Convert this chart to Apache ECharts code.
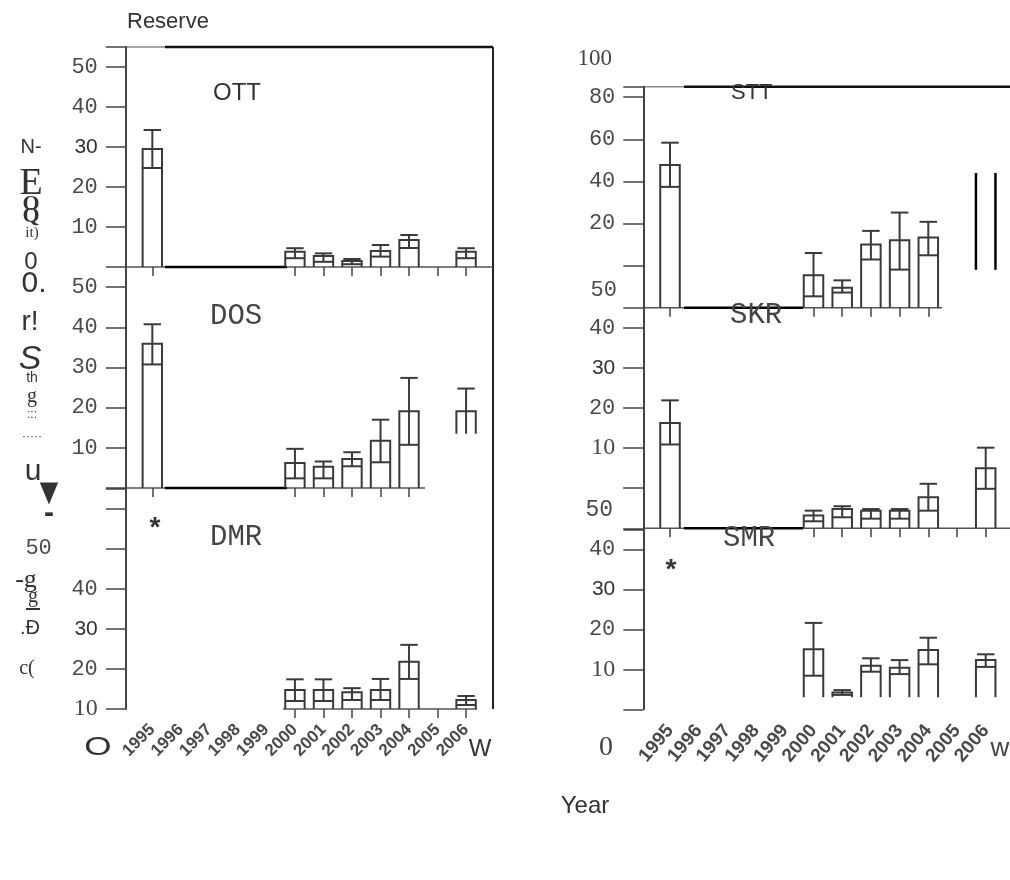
<!DOCTYPE html>
<html><head><meta charset="utf-8">
<script src="https://cdn.jsdelivr.net/npm/echarts@6/dist/echarts.min.js"></script>
<style>html,body{margin:0;padding:0;background:#fff}#c{width:1010px;height:880px}</style>
</head><body><div id="c"></div>
<script>
// ---------------- DATA ----------------
const years = [1995,1996,1997,1998,1999,2000,2001,2002,2003,2004,2005,2006];
// Reserve panels (left column)
const ottMean  = [29.5, null, null, null, null, 3.8, 2.75, 1.5, 4.0, 6.75, null, 3.8];
const ottLower = [24.75,null, null, null, null, 2.2, 1.3, 0.7, 2.6, 4.75, null, 2.2];
const ottUpper = [34.25,null, null, null, null, 4.7, 3.4, 2.0, 5.5, 8.0,  null, 4.7];
const dosMean  = [35.9, null, null, null, null, 6.2, 5.3, 7.2, 11.75, 19.1, null, 19.1];
const dosLower = [30.75,null, null, null, null, 2.4, 2.4, 5.4, 6.4,  10.75, null, 13.5];
const dosUpper = [40.75,null, null, null, null, 9.75,6.6, 8.9, 17.0, 27.4,  null, 24.75];
const dmrMean  = [null, null, null, null, null, 14.75, 14.75, 14.2, 14.75, 21.8, null, 12.25];
const dmrLower = [null, null, null, null, null, 12.0,  12.0,  12.25,12.25, 17.5, null, 11.0];
const dmrUpper = [null, null, null, null, null, 17.4,  17.4,  15.2, 17.5,  26.0, null, 13.25];
// Right column
const sttMean  = [47.8, null, null, null, null, -4.6, -10.5, 10.0, 12.0, 13.3, null, null];
const sttLower = [37.4, null, null, null, null, -14.6,-12.8, 2.9,  -1.9, 4.9,  null, null];
const sttUpper = [58.4, null, null, null, null, 6.0,  -7.0,  16.5, 25.2, 20.8, null, null];
const sttSides2006 = [-2, 44];
const skrMean  = [16.25,null, null, null, null, -6.8, -5.2, -5.6, -5.6, -2.25, null, 5.0];
const skrLower = [10.9, null, null, null, null, -8.25,-7.25,-7.6, -7.6, -5.6,  null, -0.15];
const skrUpper = [21.9, null, null, null, null, -5.6, -4.5, -5.2, -5.2, 1.1,   null, 10.1];
const smrMean  = [null, null, null, null, null, 15.0, 4.2, 10.9, 10.4, 14.8, null, 12.3];
const smrLower = [null, null, null, null, null, 8.4,  3.6, 9.4,  8.8,  11.25,null, 10.6];
const smrUpper = [null, null, null, null, null, 21.6, 4.8, 12.75,12.3, 17.9, null, 13.75];

// y tick label sets
const ottTicks = [10,20,30,40,50];
const dosTicks = [10,20,30,40,50];
const dmrTicks = [10,20,30,40,50];
const sttTicks = [20,40,60,80];
const skrTicks = [10,20,30,40];
const smrTicks = [10,20,30,40];

// ---------------- STYLE / LAYOUT ----------------
const xCats = [' '].concat(years.map(String)).concat(['  ']);
const LX = 123.8, LW = 370.8, RX = 641.3, RW = 373.1;
const grids = [
  {left: LX, top: 47,    width: LW, height: 220},
  {left: LX, top: 267,   width: LW, height: 221},
  {left: LX, top: 488.5, width: LW, height: 220.5},
  {left: RX, top: 86.7,  width: RW, height: 221},
  {left: RX, top: 307.7, width: RW, height: 220.6},
  {left: RX, top: 529.3, width: RW, height: 180}
].map(g => Object.assign({show: false, outerBoundsMode: 'none', containLabel: false}, g));

const MONO = 'Liberation Mono', SANS = 'Liberation Sans', SERIF = 'Liberation Serif';
const RICH = {
  m:  {fontFamily: MONO, fontSize: 22, color: '#4a4a4a'},
  mL: {fontFamily: MONO, fontSize: 22, color: '#4a4a4a', padding: [0, 46, 0, 0]},
  s:  {fontFamily: SANS, fontSize: 21, color: '#333'},
  t:  {fontFamily: SERIF, fontSize: 24, color: '#4a4a4a'}
};
const yFonts = [
  {50:'m',40:'m',30:'s',20:'m',10:'m'},
  {50:'m',40:'m',30:'m',20:'m',10:'m'},
  {50:'mL',40:'m',30:'s',20:'m',10:'t'},
  {80:'m',60:'m',40:'m',20:'m'},
  {40:'m',30:'s',20:'m',10:'t'},
  {40:'m',30:'s',20:'m',10:'t'}
];
const yTickSets = [ottTicks, dosTicks, dmrTicks, sttTicks, skrTicks, smrTicks];
const yRanges = [[0,55,10],[0,55,10],[10,65,10],[-20,85,20],[-10,45,10],[0,45,10]];
const xTickYears = [
  [1995,2000,2001,2002,2003,2004,2005,2006],
  [1995,2000,2001,2002,2003,2004],
  [2000,2001,2002,2003,2004,2005,2006],
  [1995,2000,2001,2002,2003,2004],
  [1995,2000,2001,2002,2003,2004,2005,2006],
  []
];
const floors = [null, {2006: 13.5}, null, null, null, 'all:3'];

function floorFor(p, year) {
  const f = floors[p];
  if (f === 'all:3') return 3;
  if (f && f[year] != null) return f[year];
  return yRanges[p][0];
}

const yAxes = yRanges.map((r, i) => ({
  type: 'value', gridIndex: i, min: r[0], max: r[1], interval: r[2], offset: -2,
  axisLine: {show: true, onZero: false, lineStyle: {color: '#444', width: 2}},
  axisTick: {show: true, length: 20, lineStyle: {color: '#444', width: 1.5}},
  splitLine: {show: false},
  axisLabel: {
    margin: 28, rich: RICH,
    formatter: v => (yTickSets[i].indexOf(v) >= 0 && yFonts[i][v]) ? '{' + yFonts[i][v] + '|' + v + '}' : ''
  }
}));

const xAxes = xTickYears.map((ty, i) => ({
  type: 'category', gridIndex: i, data: xCats, boundaryGap: false, position: 'bottom',
  axisLine: {show: false, onZero: false},
  axisTick: {show: ty.length > 0, length: 9, lineStyle: {color: '#444', width: 1.5},
             interval: (idx) => ty.indexOf(1994 + idx) >= 0},
  axisLabel: {show: i === 2 || i === 5, interval: (idx) => idx >= 1 && idx <= 12,
              rotate: i === 5 ? 50 : 45, margin: 18, fontSize: i === 5 ? 19 : 17,
              fontWeight: 'bold', fontFamily: SANS, color: '#4a4a4a'},
  splitLine: {show: false}
}));

const panelData = [
  [ottMean, ottLower, ottUpper], [dosMean, dosLower, dosUpper], [dmrMean, dmrLower, dmrUpper],
  [sttMean, sttLower, sttUpper], [skrMean, skrLower, skrUpper], [smrMean, smrLower, smrUpper]
];
const STROKE = '#3a3a3a';
function boxRender(p) {
  return function (params, api) {
    const i = api.value(0), m = api.value(1), lo = api.value(2), up = api.value(3);
    const b = floorFor(p, 1994 + i);
    const bw = api.size([1, 0])[0] * 0.68, h = bw / 2, c = h - 1;
    const pB = api.coord([i, b]), pM = api.coord([i, m]), pL = api.coord([i, lo]), pU = api.coord([i, up]);
    const x = pM[0];
    const st = {stroke: STROKE, lineWidth: 2, fill: null};
    const kids = [
      {type: 'polyline', shape: {points: [[x - h, pB[1]], [x - h, pM[1]], [x + h, pM[1]], [x + h, pB[1]]]}, style: st},
      {type: 'line', shape: {x1: x, y1: pL[1], x2: x, y2: pU[1]}, style: st},
      {type: 'line', shape: {x1: x - c, y1: pU[1], x2: x + c, y2: pU[1]}, style: st}
    ];
    if (lo > b + 0.3) kids.push({type: 'line', shape: {x1: x - h, y1: pL[1], x2: x + h, y2: pL[1]}, style: st});
    return {type: 'group', children: kids};
  };
}
const series = panelData.map((arr, p) => ({
  type: 'custom', xAxisIndex: p, yAxisIndex: p, renderItem: boxRender(p), silent: true,
  data: years.map((y, k) => arr[0][k] == null ? null : [k + 1, arr[0][k], arr[1][k], arr[2][k]]).filter(d => d)
}));
series.push({
  type: 'custom', xAxisIndex: 3, yAxisIndex: 3, silent: true,
  data: [[years.indexOf(2006) + 1, sttSides2006[0], sttSides2006[1]]],
  renderItem: function (params, api) {
    const i = api.value(0);
    const h = api.size([1, 0])[0] * 0.34;
    const a = api.coord([i, api.value(1)]), b = api.coord([i, api.value(2)]);
    const st = {stroke: '#000', lineWidth: 2.5};
    return {type: 'group', children: [
      {type: 'line', shape: {x1: a[0] - h, y1: a[1], x2: a[0] - h, y2: b[1]}, style: st},
      {type: 'line', shape: {x1: a[0] + h, y1: a[1], x2: a[0] + h, y2: b[1]}, style: st}
    ]};
  }
});

// frame lines and loose texts
function L(x1, y1, x2, y2, color, w) {
  return {type: 'line', silent: true, shape: {x1, y1, x2, y2}, style: {stroke: color, lineWidth: w}};
}
function T(x, y, text, font, opts) {
  opts = opts || {};
  const align = opts.align || 'center';
  return Object.assign({type: 'text', silent: true, x: x, y: y, style: {
    text: text, font: font, fill: opts.fill || '#333',
    align: align, textAlign: align, verticalAlign: opts.va || 'middle', textVerticalAlign: opts.va || 'middle'
  }}, opts.extra || {});
}
const graphics = [
  // left column frame
  L(126, 47, 165, 47, '#888', 1.5), L(165, 47, 493, 47, '#111', 2.5),
  L(493, 47, 493, 709, '#222', 2),
  L(126, 267, 493, 267, '#555', 1.5), L(165, 267, 287, 267, '#000', 2.5),
  L(126, 488, 425, 488, '#555', 1.5), L(165, 488, 287, 488, '#000', 2.5),
  L(283, 709, 477, 709, '#555', 1.5),
  // right column frame
  L(644, 86.7, 684, 86.7, '#888', 1.5), L(684, 86.7, 1010, 86.7, '#111', 2.5),
  L(644, 307.7, 942, 307.7, '#555', 1.5), L(684, 307.7, 803, 307.7, '#000', 2.5),
  L(644, 528.3, 1010, 528.3, '#555', 1.5), L(684, 528.3, 803, 528.3, '#000', 2.5),
  // titles
  T(127, 22, 'Reserve', '22px ' + SANS, {align: 'left'}),
  T(213, 93, 'OTT', '24px ' + SANS, {align: 'left'}),
  T(210, 316, 'DOS', '29px ' + MONO, {align: 'left', fill: '#444'}),
  T(210, 537, 'DMR', '29px ' + MONO, {align: 'left', fill: '#444'}),
  T(731, 93, 'STT', '22px ' + SANS, {align: 'left'}),
  T(730, 315, 'SKR', '29px ' + MONO, {align: 'left', fill: '#444'}),
  T(723, 538, 'SMR', '29px ' + MONO, {align: 'left', fill: '#444'}),
  T(585, 806, 'Year', '24px ' + SANS),
  T(155, 528, '*', 'bold 28px ' + SANS),
  T(671, 570, '*', 'bold 28px ' + SANS),
  // stray labels
  T(612, 59, '100', '23px ' + SERIF, {align: 'right', fill: '#444'}),
  T(617, 290, '50', '22px ' + MONO, {align: 'right', fill: '#4a4a4a'}),
  T(613, 510, '50', '23px ' + MONO, {align: 'right', fill: '#4a4a4a'}),
  T(606, 748, '0', '28px ' + SERIF, {fill: '#444'}),
  T(1000, 749, 'w', '26px ' + SANS, {fill: '#444'}),
  T(98, 748, 'O', '26px ' + SANS, {fill: '#333', extra: {scaleX: 1.35}}),
  T(480, 749, 'W', '24px ' + SANS, {fill: '#333'}),
  // garbled y-axis title
  T(31, 147, 'N-', '20px ' + SANS),
  T(31, 184, 'E', '38px ' + SERIF),
  T(31, 204, 'O', 'bold 22px ' + SERIF),
  T(31, 216, 'Q', 'bold 22px ' + SERIF),
  T(32, 233, 'it)', '15px ' + SERIF),
  T(31, 262, '0', '24px ' + SANS),
  T(34, 284, '0.', '30px ' + SANS),
  T(30, 322, 'r!', '28px ' + SANS),
  T(30, 360, 'S', 'italic 34px ' + SANS),
  T(32, 378, 'th', '14px ' + SANS),
  T(32, 397, 'g', '20px ' + SERIF),
  T(32, 415, ':::', '12px ' + SANS),
  T(32, 437, '·····', '12px ' + SANS),
  T(33, 472, 'u', '30px ' + SANS),
  T(49, 494, '▼', '24px DejaVu Sans', {fill: '#333', extra: {scaleY: 1.2}}),
  T(49, 514, '▬', '10px DejaVu Sans', {fill: '#333'}),
  T(26, 580, '-g', '26px ' + SERIF),
  T(33, 597, 'g', '20px ' + SERIF),
  L(26, 609, 40, 609, '#333', 2),
  T(30, 628, '.Đ', '20px ' + SANS),
  T(27, 669, 'c(', '20px ' + SERIF)
];

const chart = echarts.init(document.getElementById('c'), null, {renderer: 'canvas'});
chart.setOption({
  backgroundColor: '#fff',
  animation: false,
  grid: grids,
  xAxis: xAxes,
  yAxis: yAxes,
  series: series,
  graphic: {elements: graphics}
});
</script>
</body></html>
